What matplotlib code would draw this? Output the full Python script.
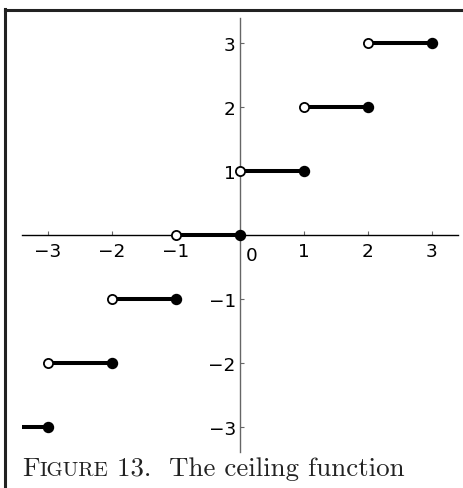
"""
Ceiling function plot: closed dot at the right end, open dot at the left end
"""

import matplotlib.pyplot as plt
from matplotlib.lines import Line2D

# step heights and the interval (a, b] each one covers
levels = [-3, -2, -1, 0, 1, 2, 3]
left_ends = [-4, -3, -2, -1, 0, 1, 2]
right_ends = [-3, -2, -1, 0, 1, 2, 3]

tick_vals = [-3, -2, -1, 1, 2, 3]
caption_big = ["F", " 13. ", "The ceiling function"]
caption_small = "IGURE"

W, H = 464, 489
fig = plt.figure(figsize=(W / 100, H / 100), dpi=100)
ax = fig.add_axes([22.4 / W, 36 / H, 435.2 / W, 433.9 / H])
ax.set_xlim(-3.4, 3.4)
ax.set_ylim(-3.39, 3.39)

for a, b, n in zip(left_ends, right_ends, levels):
    ax.plot([a, b], [n, n], color='black', linewidth=2.9,
            solid_capstyle='butt', zorder=3)
    ax.plot(b, n, 'o', color='black', markersize=7.2, zorder=4)
    ax.plot(a, n, 'o', markerfacecolor='white', markeredgecolor='black',
            markeredgewidth=1.3, markersize=6.6, zorder=4, clip_on=True)

# axes through the origin
for s in ['top', 'right']:
    ax.spines[s].set_visible(False)
ax.spines['left'].set_position(('data', 0))
ax.spines['bottom'].set_position(('data', 0))
ax.spines['left'].set_color('#666666')
ax.spines['left'].set_linewidth(1.0)
ax.spines['bottom'].set_color('black')
ax.spines['bottom'].set_linewidth(1.0)

ax.set_xticks(tick_vals)
ax.set_yticks(tick_vals)
ax.tick_params(axis='x', direction='in', length=3, width=0.8,
               color='#666666', pad=5, labelsize=13.3)
ax.tick_params(axis='y', direction='in', length=3, width=0.8,
               color='#666666', pad=3, labelsize=13.3)
ax.annotate("0", xy=(0, 0), xytext=(4, -8), textcoords='offset points',
            ha='left', va='top', fontsize=13.3)

# frame lines along top and left of the figure
fig.add_artist(Line2D([5 / W, 1], [1 - 10.5 / H, 1 - 10.5 / H],
                      color='#222222', linewidth=2.2))
fig.add_artist(Line2D([5 / W, 5 / W], [0, 1 - 9.5 / H],
                      color='#222222', linewidth=2.2))

# caption in small caps, built piece by piece
fig.canvas.draw()
r = fig.canvas.get_renderer()
cap_y = 1 - 476 / H
t1 = fig.text(22 / W, cap_y, caption_big[0], fontsize=19.4,
              family='cmr10', color='#222222', va='baseline')
x1 = t1.get_window_extent(r).x1
t2 = fig.text(x1 / W, cap_y, caption_small, fontsize=15.0,
              family='cmr10', color='#222222', va='baseline')
x2 = t2.get_window_extent(r).x1
t3 = fig.text(x2 / W, cap_y, caption_big[1], fontsize=19.4,
              family='cmr10', color='#222222', va='baseline')
x3 = t3.get_window_extent(r).x1
fig.text((x3 + 8) / W, cap_y, caption_big[2], fontsize=19.4,
         family='cmr10', color='#222222', va='baseline')

fig.savefig('out.png', dpi=100)
